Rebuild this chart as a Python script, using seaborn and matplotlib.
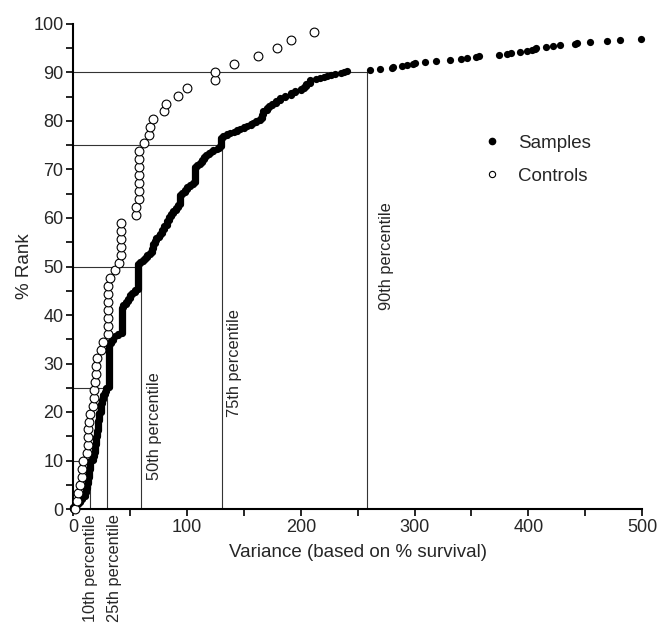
import numpy as np
import pandas as pd
import matplotlib
matplotlib.use("Agg")
import matplotlib.pyplot as plt
import seaborn as sns
from matplotlib.lines import Line2D
from matplotlib.ticker import MultipleLocator

# Samples: distinct variance values and how many samples share each value
samples_var = [0, 2, 4, 6, 8, 10, 11, 12, 13, 14, 15, 17, 18, 19, 20, 21, 22, 23, 24, 25,
               26, 28, 29, 31, 33, 35, 37, 39, 43, 44, 46, 48, 50, 52, 54, 57, 59, 61, 63, 65,
               67, 69, 70, 72, 73, 75, 76, 78, 80, 82, 84, 86, 88, 90, 92, 94, 96, 98, 100, 103,
               105, 107, 109, 111, 113, 115, 117, 119, 121, 123, 126, 128, 130, 132, 135, 138,
               141, 144, 147, 150, 153, 156, 158, 161, 164, 166, 167, 170, 172, 175, 178, 182,
               186, 191, 195, 200, 203, 205, 208, 213, 217, 220, 223, 227, 230, 235, 238, 241,
               261, 270, 280, 281, 289, 293, 299, 300, 309, 319, 331, 341, 346, 354, 357, 374,
               381, 385, 393, 399, 403, 406, 407, 416, 422, 428, 441, 443, 454, 469, 481, 499]
samples_count = [3, 2, 2, 3, 3, 4, 4, 5, 6, 8, 9, 4, 4, 8, 8, 6, 10, 8, 9, 4,
                 5, 3, 4, 44, 3, 4, 1, 2, 26, 3, 3, 3, 4, 2, 3, 26, 2, 2, 2, 3,
                 2, 4, 5, 3, 3, 2, 2, 4, 4, 5, 4, 3, 3, 3, 3, 10, 2, 3, 3, 2,
                 2, 16, 2, 2, 3, 3, 2, 2, 1, 2, 1, 2, 9, 2, 2, 1,
                 1, 2, 1, 2, 1, 2, 1, 2, 2, 4, 4, 3, 2, 2, 3, 3,
                 2, 3, 2, 2, 2, 3, 4, 1, 1, 1, 1, 1, 1, 1, 1, 1,
                 1, 1, 1, 1, 1, 1, 1, 1, 1, 1, 1, 1, 1, 1, 1, 1,
                 1, 1, 1, 1, 1, 1, 1, 1, 1, 1, 1, 1, 1, 1, 1, 1]
# total number of samples, including those with variance above 500
samples_total = 485

# Controls: variance of each control, sorted
controls_var = [1.5, 3.0, 4.5, 5.5, 7.4, 7.6, 8.5, 12.4, 12.6, 12.6, 12.9, 13.5, 14.3, 17.3,
                17.8, 17.8, 18.7, 19.9, 19.9, 20.8, 24.3, 25.8, 30.5, 30.5, 30.5, 30.5, 30.5,
                30.5, 30.5, 32.5, 36.9, 39.8, 42.2, 42.2, 42.2, 42.2, 42.2, 54.8, 55.4, 57.4,
                57.4, 57.4, 57.4, 57.4, 57.4, 57.4, 61.8, 66.8, 67.4, 69.7, 79.7, 81.7, 91.7,
                99.9, 124.5, 124.5, 141.7, 162.0, 179.5, 191.8, 211.5]

# Percentiles of the sample variance distribution
pct_levels = [10, 25, 50, 75, 90]
pct_values = [14.7, 29.9, 59.5, 130.4, 258.0]
pct_labels = ["10th percentile", "25th percentile", "50th percentile",
              "75th percentile", "90th percentile"]

# percent rank of every sorted observation
s_var = np.repeat(samples_var, samples_count)
samples = pd.DataFrame({"variance": s_var,
                        "rank": 100.0 * np.arange(len(s_var)) / samples_total})
controls = pd.DataFrame({"variance": controls_var,
                         "rank": 100.0 * np.arange(len(controls_var)) / len(controls_var)})

sns.set_style("ticks")
plt.rcParams["font.family"] = ["Liberation Sans", "DejaVu Sans"]

W, H = 660, 625
fig = plt.figure(figsize=(W / 100, H / 100), dpi=100)
x0, x1, y0, y1 = 73.3, 642, 509, 24
ax = fig.add_axes([x0 / W, 1 - y0 / H, (x1 - x0) / W, (y0 - y1) / H])

# percentile guide lines
for lvl, val in zip(pct_levels, pct_values):
    ax.plot([0, val], [lvl, lvl], color="#333333", lw=0.8, zorder=1)
    ax.plot([val, val], [0, lvl], color="#333333", lw=0.8, zorder=1)

sns.scatterplot(data=samples, x="variance", y="rank", ax=ax, color="black",
                s=27, linewidth=0, marker="o", clip_on=False, zorder=3, legend=False)
sns.scatterplot(data=controls, x="variance", y="rank", ax=ax, facecolor="white",
                edgecolor="black", s=40, linewidth=0.8, marker="o", clip_on=False,
                zorder=4, legend=False)

ax.set_xlim(0, 500)
ax.set_ylim(0, 100)
ax.xaxis.set_major_locator(MultipleLocator(100))
ax.xaxis.set_minor_locator(MultipleLocator(50))
ax.yaxis.set_major_locator(MultipleLocator(10))
ax.yaxis.set_minor_locator(MultipleLocator(5))
ax.tick_params(which="both", direction="out", length=5, width=1.2, color="black",
               labelsize=13, pad=2)
for side in ("top", "right"):
    ax.spines[side].set_visible(False)
for side in ("left", "bottom"):
    ax.spines[side].set_linewidth(1.5)
    ax.spines[side].set_color("black")

ax.set_xlabel("Variance (based on % survival)", fontsize=13.5, labelpad=6)
ax.set_ylabel("% Rank", fontsize=13.5, labelpad=0)

# percentile labels
lab_fs = 11.8
ax.text(71.8, 17.0, pct_labels[2], rotation=90, ha="center", va="center", fontsize=lab_fs)
ax.text(142.0, 30.0, pct_labels[3], rotation=90, ha="center", va="center", fontsize=lab_fs)
ax.text(275.6, 52.1, pct_labels[4], rotation=90, ha="center", va="center", fontsize=lab_fs)
for val, lab, dx in [(pct_values[0], pct_labels[0], 0.0), (pct_values[1], pct_labels[1], 6.0)]:
    ax.annotate(lab, xy=(val + dx, 0), xycoords=("data", "axes fraction"),
                xytext=(0, -4), textcoords="offset points", rotation=90,
                ha="center", va="top", fontsize=lab_fs, annotation_clip=False)

handles = [
    Line2D([], [], ls="none", marker="o", markersize=4.5, markerfacecolor="black",
           markeredgecolor="black", label="Samples"),
    Line2D([], [], ls="none", marker="o", markersize=4.5, markerfacecolor="white",
           markeredgecolor="black", markeredgewidth=0.8, label="Controls"),
]
ax.legend(handles=handles, loc="center left", bbox_to_anchor=(0.69, 0.72),
          frameon=False, fontsize=13.5, handletextpad=0.9, labelspacing=0.85,
          handlelength=1.0)

fig.savefig("out.png", dpi=100)
